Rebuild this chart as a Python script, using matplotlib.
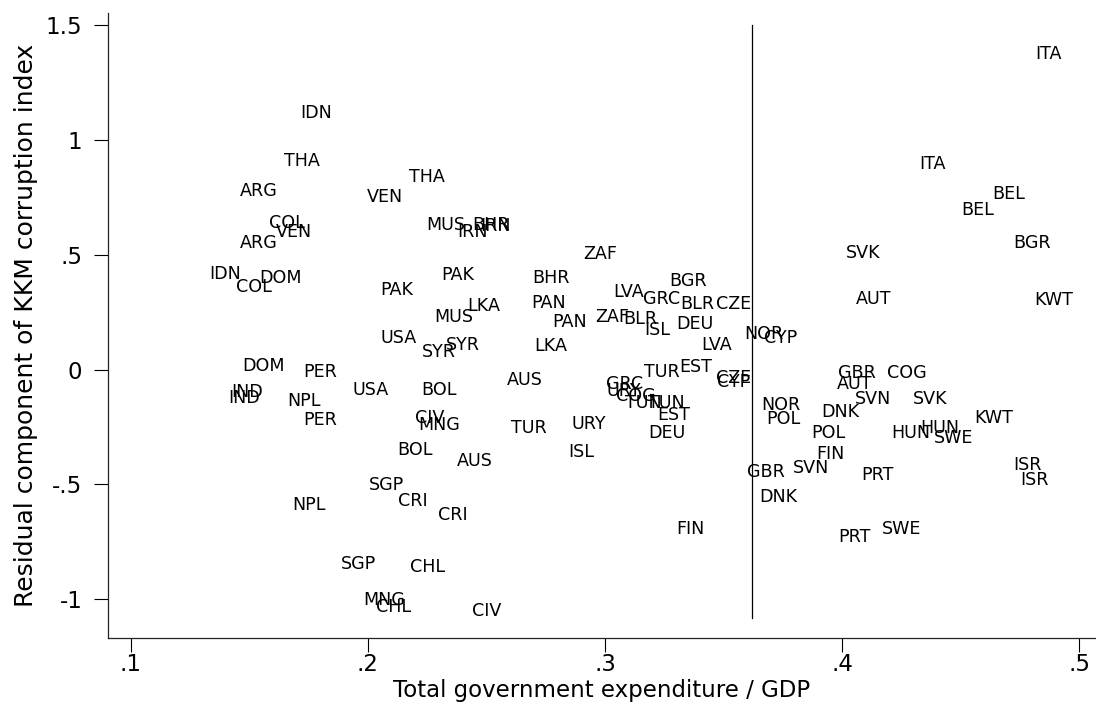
import matplotlib
matplotlib.use("Agg")
import matplotlib.pyplot as plt

# ---- data -------------------------------------------------------------
codes = [
    "IDN", "THA", "ARG", "VEN", "THA", "COL", "VEN", "ARG", "MUS", "BHR",
    "IRN", "IRN", "IDN", "COL", "DOM", "PAK", "PAK", "LKA", "MUS", "BHR",
    "PAN", "PAN", "USA", "SYR", "SYR", "LKA", "DOM", "PER", "IND", "IND",
    "NPL", "PER", "USA", "BOL", "AUS", "CIV", "MNG", "TUR", "BOL", "AUS",
    "SGP", "CRI", "NPL", "CRI", "SGP", "CHL", "MNG", "CHL", "CIV", "ZAF",
    "BGR", "LVA", "GRC", "BLR", "CZE", "ZAF", "BLR", "ISL", "DEU", "LVA",
    "NOR", "CYP", "TUR", "EST", "CZE", "CYP", "GRC", "URY", "COG", "TUN",
    "TUN", "EST", "DEU", "URY", "ISL", "FIN", "NOR", "POL", "GBR", "COG",
    "AUT", "SVN", "SVK", "DNK", "KWT", "POL", "HUN", "HUN", "SWE", "FIN",
    "GBR", "SVN", "PRT", "ISR", "ISR", "DNK", "PRT", "SWE", "ITA", "ITA",
    "BEL", "BEL", "BGR", "SVK", "AUT", "KWT",
]
expenditure = [
    0.178, 0.172, 0.154, 0.207, 0.225, 0.166, 0.169, 0.154, 0.233, 0.252,
    0.254, 0.244, 0.140, 0.152, 0.163, 0.212, 0.238, 0.249, 0.236, 0.277,
    0.276, 0.285, 0.213, 0.230, 0.240, 0.277, 0.156, 0.180, 0.148, 0.149,
    0.173, 0.180, 0.201, 0.230, 0.266, 0.226, 0.230, 0.268, 0.220, 0.245,
    0.208, 0.219, 0.175, 0.236, 0.196, 0.225, 0.207, 0.211, 0.250, 0.298,
    0.335, 0.310, 0.324, 0.339, 0.354, 0.303, 0.315, 0.322, 0.338, 0.347,
    0.367, 0.374, 0.324, 0.338, 0.354, 0.354, 0.308, 0.308, 0.313, 0.316,
    0.326, 0.329, 0.326, 0.293, 0.290, 0.336, 0.374, 0.375, 0.406, 0.427,
    0.405, 0.413, 0.437, 0.399, 0.464, 0.394, 0.429, 0.441, 0.447, 0.395,
    0.368, 0.387, 0.415, 0.478, 0.481, 0.373, 0.405, 0.425, 0.487, 0.438,
    0.470, 0.457, 0.480, 0.409, 0.413, 0.489,
]
residual = [
    1.117, 0.909, 0.778, 0.753, 0.837, 0.640, 0.599, 0.552, 0.630, 0.630,
    0.625, 0.600, 0.416, 0.360, 0.400, 0.347, 0.412, 0.277, 0.228, 0.397,
    0.288, 0.209, 0.136, 0.077, 0.106, 0.101, 0.016, -0.012, -0.125, -0.098,
    -0.135, -0.219, -0.089, -0.089, -0.045, -0.209, -0.241, -0.253, -0.350, -0.398,
    -0.502, -0.572, -0.589, -0.633, -0.846, -0.859, -1.003, -1.034, -1.052, 0.503,
    0.386, 0.338, 0.306, 0.286, 0.286, 0.229, 0.219, 0.172, 0.199, 0.107,
    0.155, 0.136, -0.009, 0.010, -0.035, -0.053, -0.063, -0.093, -0.116, -0.144,
    -0.147, -0.196, -0.275, -0.238, -0.357, -0.694, -0.154, -0.216, -0.015, -0.015,
    -0.063, -0.129, -0.129, -0.185, -0.209, -0.276, -0.277, -0.256, -0.296, -0.369,
    -0.444, -0.427, -0.459, -0.415, -0.481, -0.553, -0.727, -0.695, 1.374, 0.895,
    0.763, 0.695, 0.550, 0.508, 0.307, 0.303,
]
cutoff_x = 0.362
cutoff_y = (-1.08, 1.50)

x_ticks = [0.1, 0.2, 0.3, 0.4, 0.5]
x_ticklabels = [".1", ".2", ".3", ".4", ".5"]
y_ticks = [-1.0, -0.5, 0.0, 0.5, 1.0, 1.5]
y_ticklabels = ["-1", "-.5", "0", ".5", "1", "1.5"]

x_title = "Total government expenditure / GDP"
y_title = "Residual component of KKM corruption index"

# ---- figure -----------------------------------------------------------
plt.rcParams["font.family"] = ["DejaVu Sans"]

W, H = 1096, 706
fig = plt.figure(figsize=(W / 100, H / 100), dpi=100)
ax = fig.add_axes([108 / W, 1 - 638 / H, (1095 - 108) / W, (638 - 13) / H])

for c, x, y in zip(codes, expenditure, residual):
    ax.text(x, y, c, ha="center", va="center", fontsize=12.6, color="black")

ax.plot([cutoff_x, cutoff_x], list(cutoff_y), color="black", lw=0.9)

ax.set_xlim(0.09043, 0.50654)
ax.set_ylim(-1.1685, 1.5525)

ax.set_xticks(x_ticks)
ax.set_xticklabels(x_ticklabels)
ax.set_yticks(y_ticks)
ax.set_yticklabels(y_ticklabels)

ax.tick_params(axis="both", direction="out", length=10, width=0.8,
               labelsize=16.5, colors="black")
ax.tick_params(axis="x", pad=1)
ax.tick_params(axis="y", pad=8.5)

for s in ["top", "right"]:
    ax.spines[s].set_visible(False)
for s in ["left", "bottom"]:
    ax.spines[s].set_linewidth(0.9)
    ax.spines[s].set_color("#222222")

ax.set_xlabel(x_title, fontsize=16.5, va="baseline")
ax.xaxis.set_label_coords(0.5, -(697 - 638) / 625)
ax.set_ylabel(y_title, fontsize=18, va="center", ha="center")
ax.yaxis.set_label_coords((26.5 - 108) / 987, 0.5)

fig.savefig("out.png", dpi=100)
